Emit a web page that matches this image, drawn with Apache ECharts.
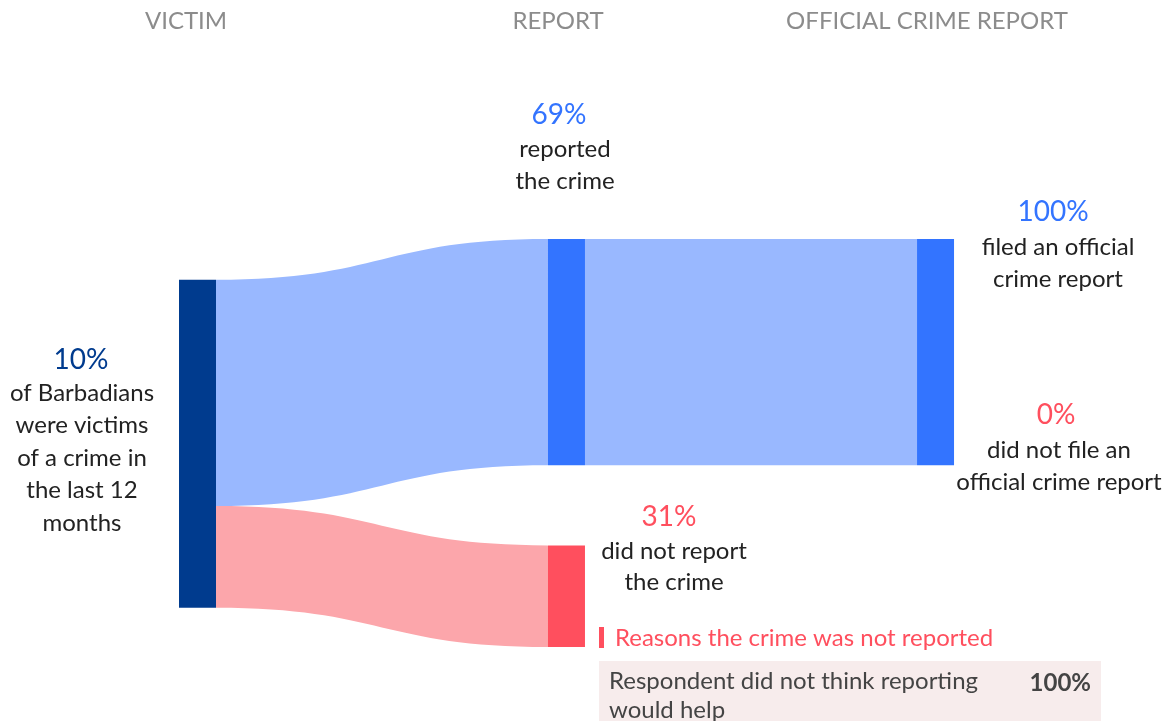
<!DOCTYPE html>
<html>
<head>
<meta charset="utf-8">
<style>
  html, body { margin: 0; padding: 0; background: #ffffff; }
  #chart { width: 1174px; height: 721px; }
</style>
<script src="https://cdn.jsdelivr.net/npm/echarts@6/dist/echarts.min.js"></script>
</head>
<body>
<div id="chart"></div>
<script>
// Column headings
const stages = ['VICTIM', 'REPORT', 'OFFICIAL CRIME REPORT'];

// Share of Barbadians who were victims of a crime (%)
const victimShare = 10;

// Among victims: reported vs. did not report (%)
const reportShares = [69, 31];

// Among those who reported: filed vs. did not file an official report (%)
const officialShares = [100, 0];

// Reasons the crime was not reported (%)
const reasonLabels = ['Respondent did not think reporting\nwould help'];
const reasonShares = [100];

const FONT = 'Lato, "Open Sans", sans-serif';
const C = {
  victim: '#003b8e',
  blue: '#3374ff',
  blueLink: '#99b8ff',
  red: '#ff4f5e',
  redLink: '#fca6ab',
  head: '#8c8c8c',
  text: '#222222'
};

// Sankey area and column placement
const AREA = { left: 179, top: 239, width: 775, height: 408 };
const NODE_W = 37;
const colX = [0, 0.4761, 0.9523]; // fraction of area width for each column

// Node placement inside the sankey area (fractions of width / height)
const nodes = [
  { name: 'victim', localX: colX[0], localY: 0.1, itemStyle: { color: C.victim } },
  { name: 'reported', localX: colX[1], localY: 0, itemStyle: { color: C.blue } },
  { name: 'notReported', localX: colX[1], localY: 0.751, itemStyle: { color: C.red } },
  { name: 'filed', localX: colX[2], localY: 0, itemStyle: { color: C.blue } }
];

const links = [
  { source: 'victim', target: 'reported', value: reportShares[0], lineStyle: { color: C.blueLink } },
  { source: 'victim', target: 'notReported', value: reportShares[1], lineStyle: { color: C.redLink } },
  { source: 'reported', target: 'filed', value: reportShares[0] * officialShares[0] / 100, lineStyle: { color: C.blueLink } }
];

function txt(x, y, text, size, color, opts) {
  return {
    type: 'text',
    style: Object.assign({
      x: x, y: y, text: text,
      fontFamily: FONT, fontSize: size, fill: color,
      align: 'center', verticalAlign: 'middle'
    }, opts || {})
  };
}

const graphics = [
  // headings
  txt(186, 21, stages[0], 24, C.head),
  txt(558, 21, stages[1], 24, C.head),
  txt(927, 21, stages[2], 24, C.head),

  // victim
  txt(81, 360, victimShare + '%', 28, C.victim),
  txt(82, 458, 'of Barbadians\nwere victims\nof a crime in\nthe last 12\nmonths', 24, C.text, { lineHeight: 32.5 }),

  // reported
  txt(559, 115, reportShares[0] + '%', 28, C.blue),
  txt(565, 165, 'reported\nthe crime', 24, C.text, { lineHeight: 32 }),

  // did not report
  txt(669, 517, reportShares[1] + '%', 28, C.red),
  txt(674, 566.5, 'did not report\nthe crime', 24, C.text, { lineHeight: 31 }),

  // filed
  txt(1053, 212, officialShares[0] + '%', 28, C.blue),
  txt(1058, 263, 'filed an official\ncrime report', 24, C.text, { lineHeight: 32 }),

  // did not file
  txt(1056, 415, officialShares[1] + '%', 28, C.red),
  txt(1059, 466, 'did not file an\nofficial crime report', 24, C.text, { lineHeight: 32 }),

  // reasons heading
  { type: 'rect', shape: { x: 599, y: 627, width: 5, height: 21 }, style: { fill: C.red } },
  txt(615, 638, 'Reasons the crime was not reported', 24, C.red, { align: 'left' }),

  // reasons table
  { type: 'rect', shape: { x: 599, y: 661, width: 502, height: 70 }, style: { fill: '#f7ecec' } },
  txt(609, 695.5, reasonLabels[0], 24, '#444444', { align: 'left', lineHeight: 29 }),
  txt(1091, 683, reasonShares[0] + '%', 24, '#444444', { align: 'right', fontWeight: 'bold' })
];

const chart = echarts.init(document.getElementById('chart'));
chart.setOption({
  backgroundColor: '#ffffff',
  animation: false,
  series: [{
    type: 'sankey',
    left: AREA.left,
    top: AREA.top,
    width: AREA.width,
    height: AREA.height,
    nodeWidth: NODE_W,
    nodeGap: 80,
    nodeAlign: 'left',
    draggable: false,
    label: { show: false },
    emphasis: { disabled: true },
    itemStyle: { borderWidth: 0 },
    lineStyle: { opacity: 1, curveness: 0.5 },
    data: nodes,
    links: links
  }],
  graphic: graphics
});
</script>
</body>
</html>
